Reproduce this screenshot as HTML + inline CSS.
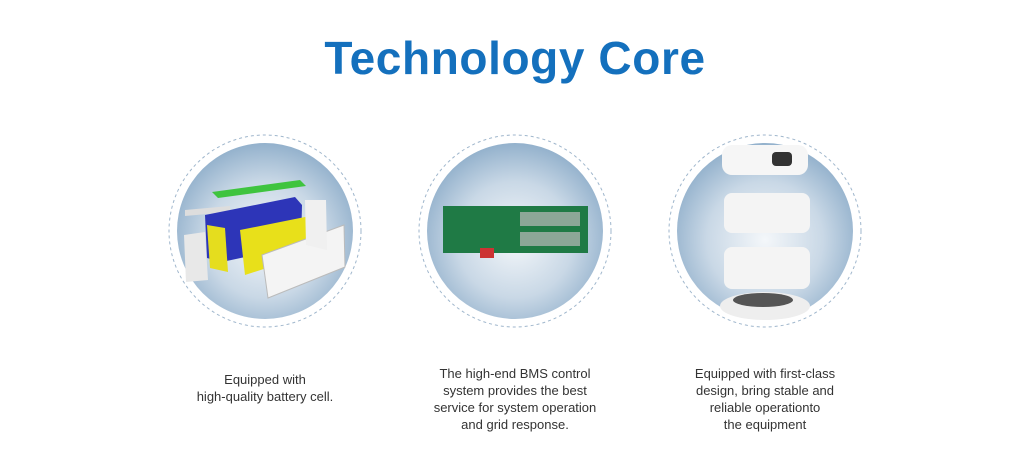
<!DOCTYPE html>
<html><head><meta charset="utf-8"><style>
body{margin:0;width:1030px;height:468px;background:#fff;font-family:"Liberation Sans",sans-serif;position:relative;overflow:hidden}
h1{position:absolute;top:31px;left:0;width:1030px;text-align:center;margin:0;font-size:46px;font-weight:bold;color:#1470bd;letter-spacing:0.6px}
.t{position:absolute;width:240px;text-align:center;font-size:13px;line-height:17px;color:#333}
svg{position:absolute;left:0;top:0}
</style></head><body>
<h1>Technology Core</h1>
<svg width="1030" height="468">
<defs><radialGradient id="g" cx="50%" cy="55%" r="55%"><stop offset="0" stop-color="#f4f7fa"/><stop offset="0.6" stop-color="#c9d8e6"/><stop offset="1" stop-color="#93b1cc"/></radialGradient></defs>
<g fill="none" stroke="#9fb6cc" stroke-dasharray="3,3"><circle cx="265" cy="231" r="96"/><circle cx="515" cy="231" r="96"/><circle cx="765" cy="231" r="96"/></g>
<g fill="url(#g)"><circle cx="265" cy="231" r="88"/><circle cx="515" cy="231" r="88"/><circle cx="765" cy="231" r="88"/></g>
<polygon points="212,192 300,180 306,186 218,198" fill="#3fc43f"/>
<polygon points="185,210 230,206 230,212 185,216" fill="#ddd"/>
<polygon points="184,235 205,232 208,280 186,282" fill="#e8e8e8"/>
<polygon points="205,215 295,197 302,205 301,245 222,262 207,258" fill="#2d35b8"/>
<polygon points="207,225 225,228 228,272 210,268" fill="#e5dd1e"/>
<polygon points="240,230 320,214 323,250 245,275" fill="#e8e01a"/>
<polygon points="262,255 344,225 345,267 268,298" fill="#f4f4f4" stroke="#bbb" stroke-width="1"/>
<polygon points="305,200 326,200 327,250 306,245" fill="#f0f0f0"/>
<rect x="443" y="206" width="145" height="47" fill="#1f7a45"/>
<rect x="520" y="212" width="60" height="14" fill="#bbb" opacity="0.7"/>
<rect x="520" y="232" width="60" height="14" fill="#bbb" opacity="0.7"/>
<rect x="480" y="248" width="14" height="10" fill="#c33"/>
<rect x="722" y="145" width="86" height="30" rx="10" fill="#f6f6f6"/>
<rect x="772" y="152" width="20" height="14" rx="4" fill="#333"/>
<rect x="724" y="193" width="86" height="40" rx="8" fill="#f4f4f4"/>
<rect x="724" y="247" width="86" height="42" rx="8" fill="#f4f4f4"/>
<ellipse cx="765" cy="306" rx="45" ry="14" fill="#eee"/>
<ellipse cx="763" cy="300" rx="30" ry="7" fill="#555"/>
</svg>
<div class="t" style="left:145px;top:371px">Equipped with<br>high-quality battery cell.</div>
<div class="t" style="left:395px;top:365px">The high-end BMS control<br>system provides the best<br>service for system operation<br>and grid response.</div>
<div class="t" style="left:645px;top:365px">Equipped with first-class<br>design, bring stable and<br>reliable operationto<br>the equipment</div>
</body></html>
